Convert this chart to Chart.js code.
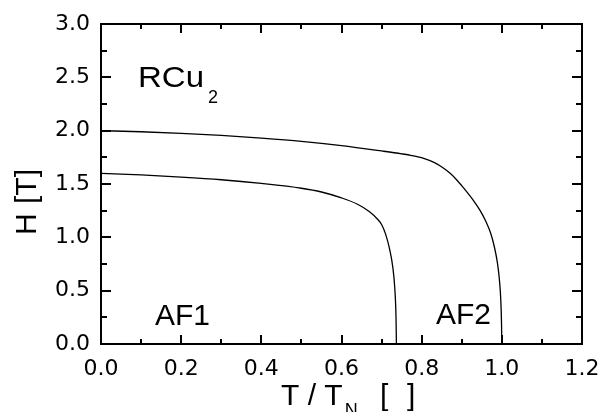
<!DOCTYPE html>
<html>
<head>
<meta charset="utf-8">
<script src="https://cdn.jsdelivr.net/npm/chart.js@4"></script>
<style>
  html, body { margin: 0; padding: 0; background: #fff; }
  #wrap { width: 602px; height: 412px; }
</style>
</head>
<body>
<div id="wrap"><canvas id="phase" width="602" height="412"></canvas></div>
<script>
// ------------------ Data ------------------
// upper phase boundary (AF2 / paramagnetic)
const tUpper = [0, 0.1, 0.2, 0.3, 0.4, 0.5, 0.6, 0.7, 0.75, 0.775, 0.805, 0.832, 0.854, 0.871, 0.887, 0.903, 0.918, 0.932, 0.946, 0.96, 0.972, 0.982, 0.989, 0.994, 0.9973, 0.9992, 1.0];
const hUpper = [2.00, 1.99, 1.975, 1.955, 1.93, 1.90, 1.86, 1.81, 1.783, 1.767, 1.74, 1.70, 1.65, 1.60, 1.54, 1.47, 1.40, 1.33, 1.25, 1.15, 1.04, 0.90, 0.76, 0.60, 0.42, 0.20, 0.0];
// lower phase boundary (AF1 / AF2)
const tLower = [0, 0.1, 0.2, 0.3, 0.4, 0.5, 0.55, 0.6, 0.64, 0.67, 0.69, 0.70, 0.71, 0.72, 0.728, 0.733, 0.736, 0.737];
const hLower = [1.60, 1.585, 1.565, 1.54, 1.505, 1.46, 1.425, 1.37, 1.31, 1.24, 1.17, 1.12, 1.03, 0.89, 0.72, 0.52, 0.25, 0.0];

const xMin = 0, xMax = 1.2, xStep = 0.2;
const yMin = 0, yMax = 3.0, yStep = 0.5;

const FONT = "'Liberation Sans', Arial, sans-serif";
const TICK_FONT = "'DejaVu Sans', sans-serif";

function toPoints(xs, ys) {
  return xs.map((x, i) => ({ x: x, y: ys[i] }));
}

// ------------------ Plugins ------------------
// frame with inward ticks on all four sides
const framePlugin = {
  id: "frame",
  afterDraw(chart) {
    const { ctx, chartArea: a, scales } = chart;
    const xs = scales.x, ys = scales.y;
    ctx.save();
    ctx.strokeStyle = "#000";
    ctx.lineWidth = 2;
    ctx.beginPath();
    // x ticks every 0.1
    for (let i = 0; i <= 12; i++) {
      const px = Math.round(xs.getPixelForValue(i * 0.1));
      const len = i % 2 === 0 ? 9 : 5;
      ctx.moveTo(px, a.bottom); ctx.lineTo(px, a.bottom - len);
      ctx.moveTo(px, a.top); ctx.lineTo(px, a.top + len);
    }
    // y ticks every 0.25
    for (let i = 0; i <= 12; i++) {
      const py = Math.round(ys.getPixelForValue(i * 0.25));
      const len = i % 2 === 0 ? 10 : 6;
      ctx.moveTo(a.left, py); ctx.lineTo(a.left + len, py);
      ctx.moveTo(a.right, py); ctx.lineTo(a.right - len, py);
    }
    ctx.stroke();
    ctx.strokeRect(a.left, a.top, a.right - a.left, a.bottom - a.top);
    ctx.restore();
  }
};

// axis titles and labels (with subscripts)
const textPlugin = {
  id: "texts",
  afterDraw(chart) {
    const ctx = chart.ctx;
    ctx.save();
    ctx.fillStyle = "#000";
    ctx.textBaseline = "alphabetic";
    ctx.textAlign = "left";

    // x title: T / T_N [ ]
    ctx.font = "30px " + FONT;
    ctx.fillText("T / T", 281, 405);
    const w = ctx.measureText("T / T").width;
    ctx.font = "18px " + FONT;
    ctx.fillText("N", 281 + w + 2, 416);
    ctx.font = "30px " + FONT;
    ctx.fillText("[", 380, 405);
    ctx.fillText("]", 407, 405);

    // y title: H [T]
    ctx.save();
    ctx.translate(36, 235);
    ctx.rotate(-Math.PI / 2);
    ctx.font = "30px " + FONT;
    ctx.fillText("H", 0, 0);
    ctx.fillText("[T]", 31, 0);
    ctx.restore();

    // RCu2 (original lettering is a bit wider)
    ctx.save();
    ctx.translate(138, 87);
    ctx.scale(1.1, 1);
    ctx.font = "30px " + FONT;
    ctx.fillText("RCu", 0, 0);
    ctx.restore();
    ctx.font = "18px " + FONT;
    ctx.fillText("2", 208, 103);

    // phase labels
    ctx.font = "30px " + FONT;
    ctx.fillText("AF1", 155, 325);
    ctx.fillText("AF2", 436, 324);
    ctx.restore();
  }
};

// ------------------ Chart ------------------
const lineStyle = {
  borderColor: "#000",
  borderWidth: 1.3,
  pointRadius: 0,
  fill: false,
  cubicInterpolationMode: "monotone"
};

new Chart(document.getElementById("phase").getContext("2d"), {
  type: "line",
  data: {
    datasets: [
      Object.assign({ label: "upper", data: toPoints(tUpper, hUpper) }, lineStyle),
      Object.assign({ label: "lower", data: toPoints(tLower, hLower) }, lineStyle)
    ]
  },
  options: {
    responsive: false,
    animation: false,
    devicePixelRatio: 1,
    layout: { padding: { top: 24, right: 20, left: 0, bottom: 0 } },
    plugins: { legend: { display: false }, tooltip: { enabled: false } },
    scales: {
      x: {
        type: "linear",
        min: xMin, max: xMax,
        grid: { display: false, drawTicks: false },
        border: { display: false },
        ticks: {
          stepSize: xStep,
          padding: 12,
          color: "#000",
          font: { family: TICK_FONT, size: 22 },
          callback: v => v.toFixed(1)
        },
        afterFit: s => { s.height = 68; s.paddingLeft = 0; s.paddingRight = 0; }
      },
      y: {
        type: "linear",
        min: yMin, max: yMax,
        grid: { display: false, drawTicks: false },
        border: { display: false },
        ticks: {
          stepSize: yStep,
          padding: 11,
          color: "#000",
          font: { family: TICK_FONT, size: 22 },
          callback: v => v.toFixed(1)
        },
        afterFit: s => { s.width = 101; s.paddingTop = 0; s.paddingBottom = 0; }
      }
    }
  },
  plugins: [framePlugin, textPlugin]
});
</script>
</body>
</html>
